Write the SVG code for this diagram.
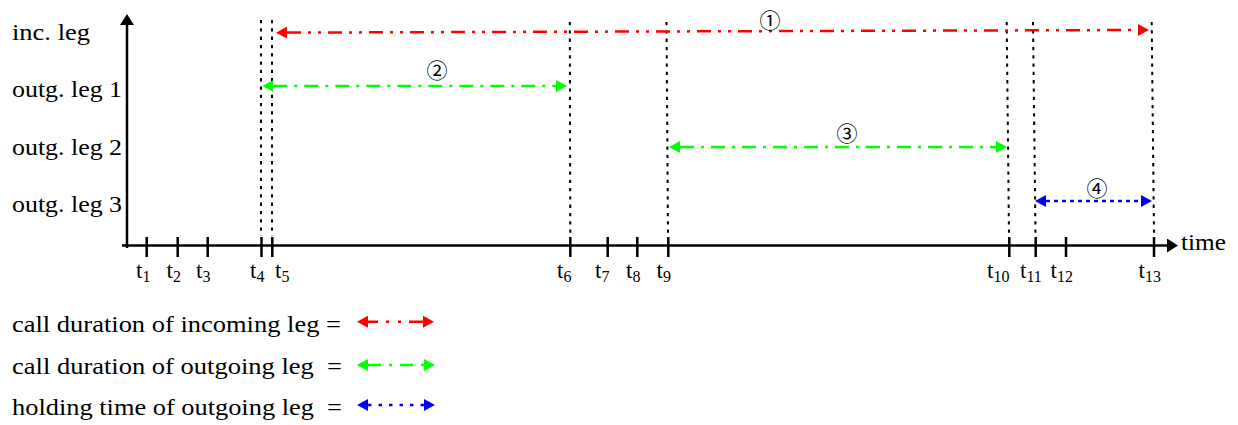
<svg xmlns="http://www.w3.org/2000/svg" width="1238" height="425" viewBox="0 0 1238 425">
<style>
text{font-family:"Liberation Serif","Times New Roman",serif;fill:#000}
.lbl{font-size:24px}
.tk{font-size:23px}
.sub{font-size:16px}
.num{font-family:"Noto Sans CJK JP","DejaVu Sans",sans-serif;font-size:21px;text-anchor:middle}
.axis{stroke:#000;stroke-width:2.5;fill:none}
.tick{stroke:#000;stroke-width:2.5}
.vd{stroke:#000;stroke-width:2;stroke-dasharray:3.3 5;fill:none}
.red{stroke:#ff0000;stroke-width:2.5;fill:none;stroke-dasharray:14 7 3 7 3 7;marker-start:url(#ahr);marker-end:url(#ahr)}
.grn{stroke:#00ff00;stroke-width:2.5;fill:none;stroke-dasharray:14 7 3 7;marker-start:url(#ahg);marker-end:url(#ahg)}
.blu{stroke:#0000ff;stroke-width:2.5;fill:none;stroke-dasharray:4 4;marker-start:url(#ahb);marker-end:url(#ahb)}
</style>
<defs>
<marker id="ahr" viewBox="0 0 11 12" refX="0" refY="6" markerWidth="11" markerHeight="12" markerUnits="userSpaceOnUse" orient="auto-start-reverse"><path d="M0,0 L11,6 L0,12 z" fill="#ff0000"/></marker>
<marker id="ahg" viewBox="0 0 11 12" refX="0" refY="6" markerWidth="11" markerHeight="12" markerUnits="userSpaceOnUse" orient="auto-start-reverse"><path d="M0,0 L11,6 L0,12 z" fill="#00ff00"/></marker>
<marker id="ahb" viewBox="0 0 11 12" refX="0" refY="6" markerWidth="11" markerHeight="12" markerUnits="userSpaceOnUse" orient="auto-start-reverse"><path d="M0,0 L11,6 L0,12 z" fill="#0000ff"/></marker>
<marker id="ahk" viewBox="0 0 11 14" refX="0" refY="7" markerWidth="11" markerHeight="14" markerUnits="userSpaceOnUse" orient="auto"><path d="M0,0 L11,7 L0,14 z" fill="#000"/></marker>
</defs>
<rect width="1238" height="425" fill="#fff"/>

<g id="axes">
<path class="axis" d="M127,248 L127,25" marker-end="url(#ahk)"/>
<path class="axis" d="M122,245.5 L1167,245.5" marker-end="url(#ahk)"/>
<text class="lbl" x="1181" y="250" textLength="45" lengthAdjust="spacingAndGlyphs">time</text>
</g>

<g id="row-labels">
<text class="lbl" x="12" y="40" textLength="78" lengthAdjust="spacingAndGlyphs">inc. leg</text>
<text class="lbl" x="12" y="97" textLength="110" lengthAdjust="spacingAndGlyphs">outg. leg 1</text>
<text class="lbl" x="12" y="155" textLength="110" lengthAdjust="spacingAndGlyphs">outg. leg 2</text>
<text class="lbl" x="12" y="212" textLength="110" lengthAdjust="spacingAndGlyphs">outg. leg 3</text>
</g>

<g id="ticks">
<line class="tick" x1="146.7" y1="237" x2="146.7" y2="257"/>
<line class="tick" x1="177.7" y1="237" x2="177.7" y2="257"/>
<line class="tick" x1="207.7" y1="237" x2="207.7" y2="257"/>
<line class="tick" x1="261.5" y1="237" x2="261.5" y2="257"/>
<line class="tick" x1="272.3" y1="237" x2="272.3" y2="257"/>
<line class="tick" x1="570.3" y1="237" x2="570.3" y2="257"/>
<line class="tick" x1="607.7" y1="237" x2="607.7" y2="257"/>
<line class="tick" x1="637.3" y1="237" x2="637.3" y2="257"/>
<line class="tick" x1="668.3" y1="237" x2="668.3" y2="257"/>
<line class="tick" x1="1009.3" y1="237" x2="1009.3" y2="257"/>
<line class="tick" x1="1035.7" y1="237" x2="1035.7" y2="257"/>
<line class="tick" x1="1066" y1="237" x2="1066" y2="257"/>
<line class="tick" x1="1154" y1="237" x2="1154" y2="257"/>
</g>

<g id="tick-labels">
<text class="tk" x="136" y="278">t<tspan class="sub" dy="4">1</tspan></text>
<text class="tk" x="166.5" y="278">t<tspan class="sub" dy="4">2</tspan></text>
<text class="tk" x="196" y="278">t<tspan class="sub" dy="4">3</tspan></text>
<text class="tk" x="250" y="278">t<tspan class="sub" dy="4">4</tspan></text>
<text class="tk" x="275" y="278">t<tspan class="sub" dy="4">5</tspan></text>
<text class="tk" x="557" y="278">t<tspan class="sub" dy="4">6</tspan></text>
<text class="tk" x="595" y="278">t<tspan class="sub" dy="4">7</tspan></text>
<text class="tk" x="626" y="278">t<tspan class="sub" dy="4">8</tspan></text>
<text class="tk" x="656.5" y="278">t<tspan class="sub" dy="4">9</tspan></text>
<text class="tk" x="987" y="278">t<tspan class="sub" dy="4">10</tspan></text>
<text class="tk" x="1020" y="278">t<tspan class="sub" dy="4">11</tspan></text>
<text class="tk" x="1050.5" y="278">t<tspan class="sub" dy="4">12</tspan></text>
<text class="tk" x="1138.5" y="278">t<tspan class="sub" dy="4">13</tspan></text>
</g>

<g id="event-lines">
<line class="vd" x1="261" y1="20" x2="261" y2="236"/>
<line class="vd" x1="272" y1="20" x2="272" y2="236"/>
<line class="vd" x1="569.8" y1="22" x2="570.3" y2="236"/>
<line class="vd" x1="666.5" y1="22" x2="668" y2="236"/>
<line class="vd" x1="1006.7" y1="22" x2="1009" y2="236"/>
<line class="vd" x1="1033" y1="22" x2="1035.5" y2="236"/>
<line class="vd" x1="1151.7" y1="22" x2="1154" y2="236"/>
</g>

<g id="connectors">
<path class="red" d="M287,32.6 L1138,30"/>
<path class="grn" d="M273.3,86 L556,86"/>
<path class="grn" d="M680,147 L996,147"/>
<path class="blu" d="M1046,201 L1141,201"/>
</g>

<g id="numbers">
<text class="num" x="770" y="28">①</text>
<text class="num" x="437" y="78">②</text>
<text class="num" x="847" y="141">③</text>
<text class="num" x="1097" y="196">④</text>
</g>

<g id="legend">
<text class="lbl" x="12" y="332" xml:space="preserve" textLength="329" lengthAdjust="spacingAndGlyphs">call duration of incoming leg =</text>
<text class="lbl" x="12" y="374" xml:space="preserve" textLength="330" lengthAdjust="spacingAndGlyphs">call duration of outgoing leg  =</text>
<text class="lbl" x="12" y="415" xml:space="preserve" textLength="330" lengthAdjust="spacingAndGlyphs">holding time of outgoing leg  =</text>
<path class="red" d="M368,321.7 L423,321.7" style="stroke-dasharray:10 8 3 9 3 8 15"/>
<path class="grn" d="M368,365 L424,365" style="stroke-dasharray:13 8 3 8"/>
<path class="blu" d="M368,405 L424,405" style="stroke-dasharray:3.5 7"/>
</g>
</svg>
